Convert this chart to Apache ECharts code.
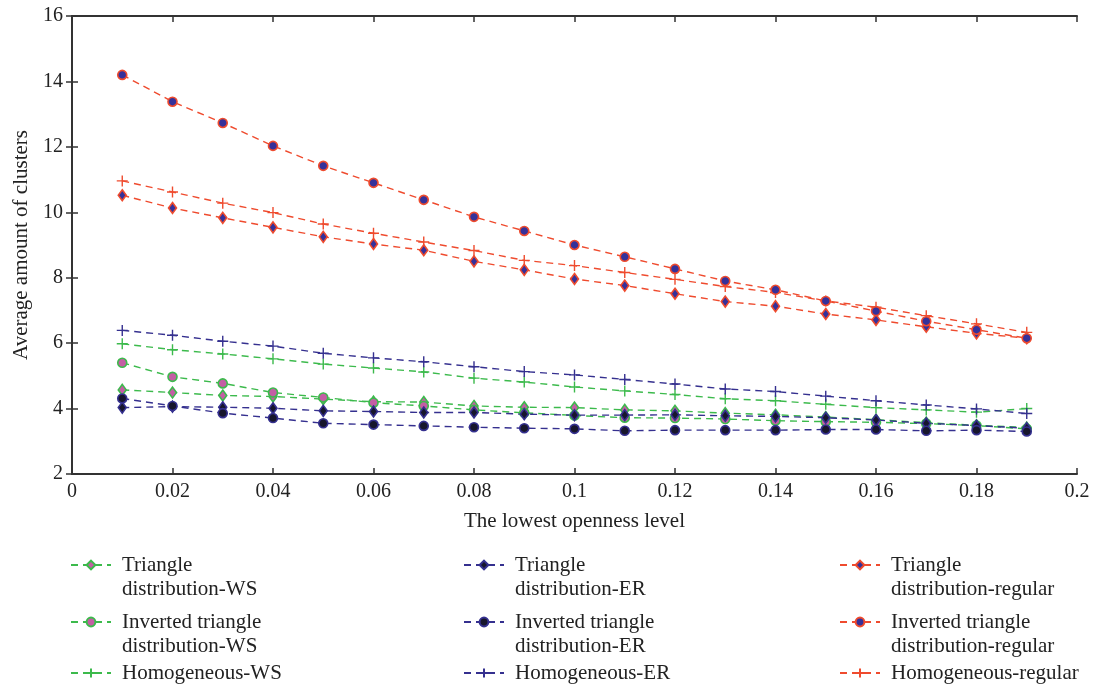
<!DOCTYPE html>
<html>
<head>
<meta charset="utf-8">
<script src="https://cdn.jsdelivr.net/npm/echarts@6/dist/echarts.min.js"></script>
<style>
  html, body { margin: 0; padding: 0; background: #fff; }
  #chart { width: 1102px; height: 688px; }
</style>
</head>
<body>
<div id="chart"></div>
<script>
// Lowest openness level (x)
const openness = [0.01, 0.02, 0.03, 0.04, 0.05, 0.06, 0.07, 0.08, 0.09, 0.10,
                  0.11, 0.12, 0.13, 0.14, 0.15, 0.16, 0.17, 0.18, 0.19];

// Average amount of clusters per distribution / network
const triangleWS   = [4.57, 4.49, 4.40, 4.37, 4.29, 4.21, 4.20, 4.08, 4.04, 4.03, 3.96, 3.93, 3.86, 3.81, 3.74, 3.66, 3.57, 3.49, 3.42];
const invertedWS   = [5.40, 4.97, 4.77, 4.49, 4.34, 4.18, 4.08, 3.96, 3.87, 3.79, 3.72, 3.71, 3.68, 3.63, 3.60, 3.58, 3.54, 3.48, 3.38];
const homogWS      = [5.98, 5.80, 5.67, 5.52, 5.36, 5.24, 5.12, 4.93, 4.81, 4.66, 4.54, 4.43, 4.30, 4.24, 4.13, 4.03, 3.96, 3.89, 4.00];
const triangleER   = [4.03, 4.06, 4.04, 4.01, 3.93, 3.91, 3.88, 3.88, 3.83, 3.80, 3.80, 3.81, 3.78, 3.76, 3.72, 3.65, 3.55, 3.48, 3.40];
const invertedER   = [4.31, 4.08, 3.86, 3.71, 3.55, 3.51, 3.47, 3.43, 3.40, 3.38, 3.32, 3.34, 3.34, 3.34, 3.36, 3.36, 3.32, 3.34, 3.30];
const homogER      = [6.39, 6.24, 6.06, 5.91, 5.69, 5.55, 5.43, 5.28, 5.13, 5.03, 4.89, 4.75, 4.60, 4.52, 4.38, 4.24, 4.11, 3.99, 3.85];
const triangleReg  = [10.52, 10.13, 9.83, 9.54, 9.25, 9.03, 8.84, 8.50, 8.24, 7.96, 7.76, 7.51, 7.27, 7.13, 6.89, 6.71, 6.50, 6.30, 6.15];
const invertedReg  = [14.20, 13.38, 12.73, 12.03, 11.42, 10.90, 10.38, 9.86, 9.43, 9.00, 8.64, 8.27, 7.90, 7.63, 7.29, 6.98, 6.67, 6.41, 6.15];
const homogReg     = [10.96, 10.62, 10.28, 9.99, 9.64, 9.36, 9.09, 8.83, 8.53, 8.37, 8.16, 7.95, 7.73, 7.55, 7.29, 7.10, 6.84, 6.59, 6.33];

// Axis ranges
const xMin = 0, xMax = 0.2, xStep = 0.02;
const yMin = 2, yMax = 16, yStep = 2;

// Series names (legend labels)
const names = [
  'Triangle distribution-WS', 'Triangle distribution-ER', 'Triangle distribution-regular',
  'Inverted triangle distribution-WS', 'Inverted triangle distribution-ER', 'Inverted triangle distribution-regular',
  'Homogeneous-WS', 'Homogeneous-ER', 'Homogeneous-regular'
];
// Wrapped legend text
const legendText = {
  'Triangle distribution-WS': 'Triangle\ndistribution-WS',
  'Triangle distribution-ER': 'Triangle\ndistribution-ER',
  'Triangle distribution-regular': 'Triangle\ndistribution-regular',
  'Inverted triangle distribution-WS': 'Inverted triangle\ndistribution-WS',
  'Inverted triangle distribution-ER': 'Inverted triangle\ndistribution-ER',
  'Inverted triangle distribution-regular': 'Inverted triangle\ndistribution-regular',
  'Homogeneous-WS': 'Homogeneous-WS',
  'Homogeneous-ER': 'Homogeneous-ER',
  'Homogeneous-regular': 'Homogeneous-regular'
};

const RED = '#ef4b2e', GREEN = '#3cba4c', NAVY = '#35308f';
const BLUEFILL = '#35319a', PINK = '#c45ea4', DARK = '#17162c';
const PLUS = 'path://M5,0L5,10M0,5L10,5';
const FONT = '"Liberation Serif", "DejaVu Serif", serif';

function pairs(ys) { return openness.map((x, i) => [x, ys[i]]); }

function makeSeries(name, ys, line, kind, fill) {
  let symbol, size, itemStyle;
  if (kind === 'diamond') {
    symbol = 'diamond'; size = [8, 11];
    itemStyle = { color: fill, borderColor: line, borderWidth: 1.6 };
  } else if (kind === 'circle') {
    symbol = 'circle'; size = 9;
    itemStyle = { color: fill, borderColor: line, borderWidth: 1.6 };
  } else {
    symbol = PLUS; size = 11;
    itemStyle = { color: line, borderColor: line, borderWidth: 1.4 };
  }
  return {
    name, type: 'line', data: pairs(ys), symbol, symbolSize: size,
    showAllSymbol: true, itemStyle,
    lineStyle: { color: line, width: 1.4, type: [7, 5] },
    emphasis: { disabled: true }, animation: false
  };
}

const series = [
  makeSeries(names[6], homogWS, GREEN, 'plus'),
  makeSeries(names[7], homogER, NAVY, 'plus'),
  makeSeries(names[8], homogReg, RED, 'plus'),
  makeSeries(names[0], triangleWS, GREEN, 'diamond', PINK),
  makeSeries(names[3], invertedWS, GREEN, 'circle', PINK),
  makeSeries(names[1], triangleER, NAVY, 'diamond', DARK),
  makeSeries(names[4], invertedER, NAVY, 'circle', DARK),
  makeSeries(names[2], triangleReg, RED, 'diamond', BLUEFILL),
  makeSeries(names[5], invertedReg, RED, 'circle', BLUEFILL)
];

// Legend: one block per entry, laid out in a 3x3 grid
const LINE_H = 24;
const colLeft = [70, 463, 839];
const rowCenter = [565, 622, 673];
const legends = names.map((n, i) => {
  const twoLine = legendText[n].indexOf('\n') >= 0;
  const lines = twoLine ? 3 : 1;
  return {
    data: [n], orient: 'vertical', padding: 0,
    left: colLeft[i % 3], top: rowCenter[Math.floor(i / 3)] - lines * LINE_H / 2,
    itemWidth: 40, itemHeight: 11,
    selectedMode: false,
    formatter: name => (legendText[name].indexOf('\n') >= 0 ? '\n' : '') + legendText[name],
    textStyle: { fontFamily: FONT, fontSize: 21, color: '#222', lineHeight: LINE_H, padding: [0, 0, 0, 6] }
  };
});

const axisLine = { show: true, lineStyle: { color: '#333', width: 2 } };
const axisTick = { show: true, inside: true, length: 6, lineStyle: { color: '#333', width: 1.5 } };
const tickStyle = { fontFamily: FONT, fontSize: 20, color: '#222' };
const titleStyle = { fontFamily: FONT, fontSize: 21, color: '#222' };

const option = {
  backgroundColor: '#fff',
  animation: false,
  grid: { left: 72, right: 25, top: 16, bottom: 214, containLabel: false },
  legend: legends,
  xAxis: [{
    type: 'value', min: xMin, max: xMax, interval: xStep,
    axisLine, axisTick, splitLine: { show: false },
    axisLabel: Object.assign({ margin: 8, formatter: v => String(+v.toFixed(2)) }, tickStyle),
    name: 'The lowest openness level', nameLocation: 'middle', nameGap: 37,
    nameTextStyle: titleStyle
  }, {
    type: 'value', position: 'top', min: xMin, max: xMax, interval: xStep,
    axisLine, axisTick, axisLabel: { show: false }, splitLine: { show: false }
  }],
  yAxis: [{
    type: 'value', min: yMin, max: yMax, interval: yStep,
    axisLine, axisTick, splitLine: { show: false },
    axisLabel: Object.assign({ margin: 9 }, tickStyle),
    name: 'Average amount of clusters', nameLocation: 'middle', nameGap: 39,
    nameTextStyle: titleStyle
  }, {
    type: 'value', position: 'right', min: yMin, max: yMax, interval: yStep,
    axisLine, axisTick, axisLabel: { show: false }, splitLine: { show: false }
  }],
  series
};

const chart = echarts.init(document.getElementById('chart'), null, { renderer: 'canvas' });
chart.setOption(option);
</script>
</body>
</html>
